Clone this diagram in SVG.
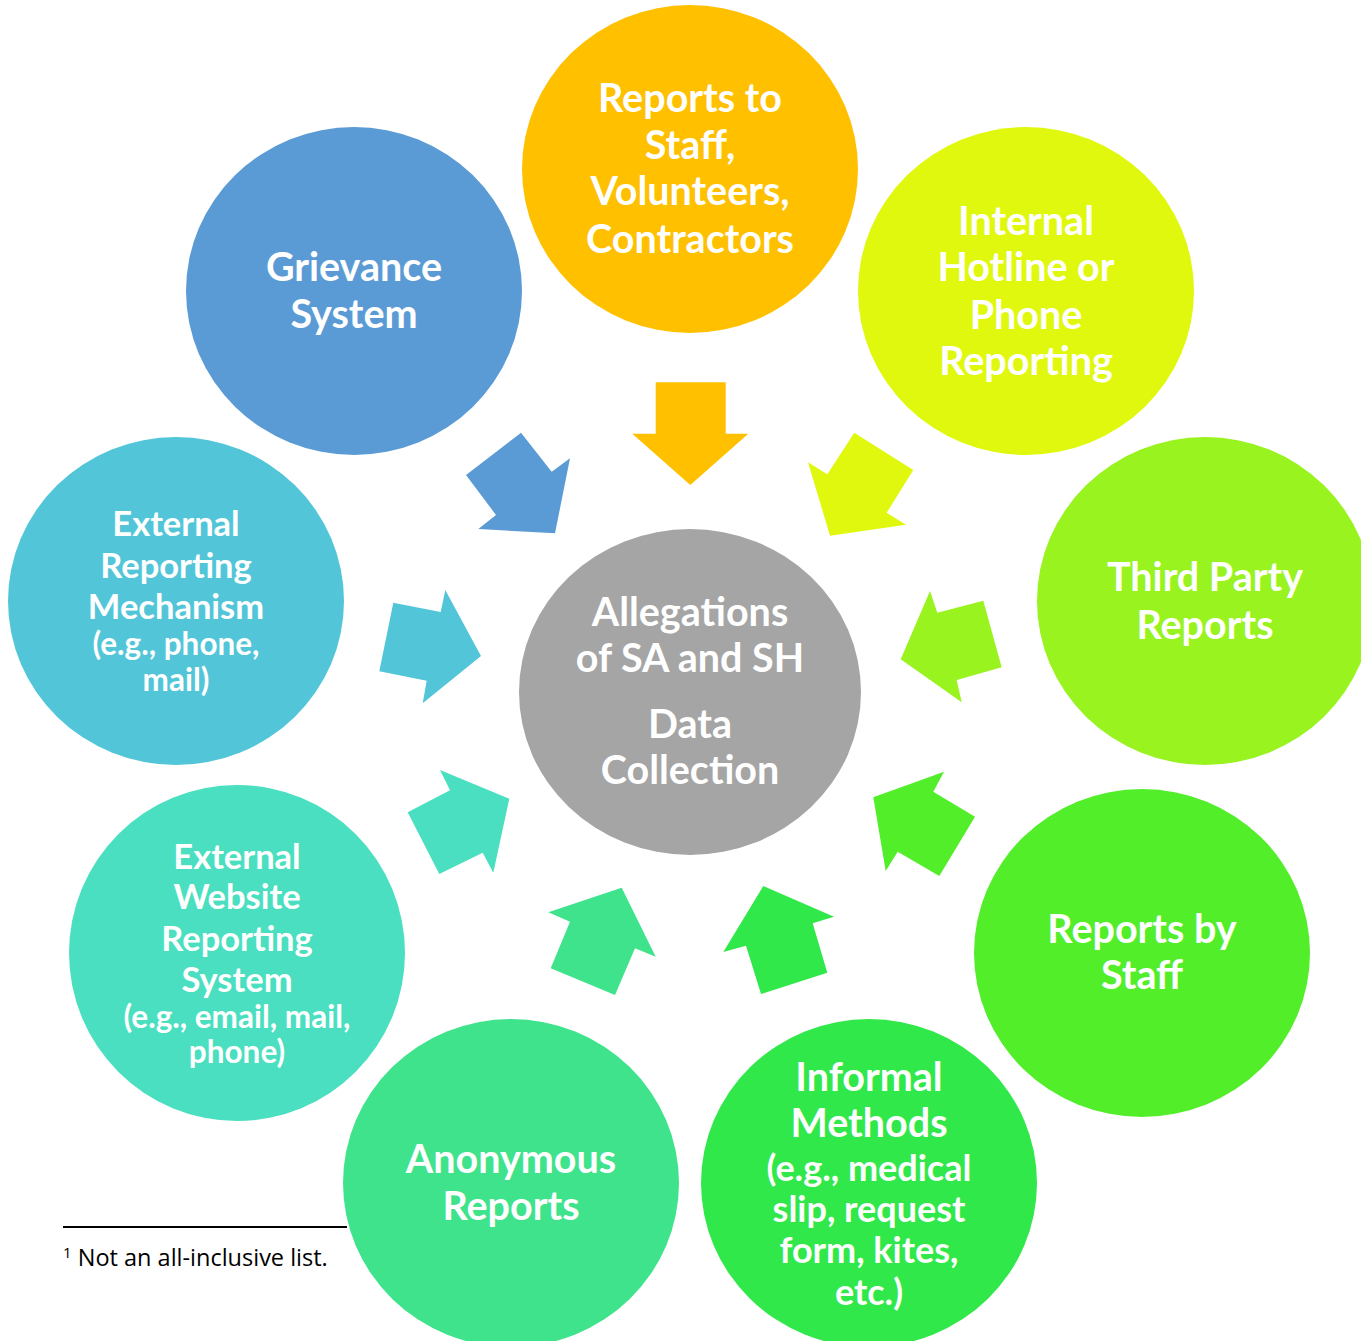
<svg xmlns="http://www.w3.org/2000/svg" width="1361" height="1341" viewBox="0 0 1361 1341">
<style>
.t{font-family:Lato,"Open Sans","Liberation Sans",sans-serif;font-weight:bold;fill:#fff;text-anchor:middle}
.b{font-size:39.5px}
.m{font-size:34.5px}
.s{font-size:31.5px}
.i{font-size:36px}
.f{font-family:"Open Sans","Liberation Sans",sans-serif;font-size:23.5px;fill:#000}
</style>
<rect width="1361" height="1341" fill="#fff"/>
<g id="connectors">
<polygon fill="#FFC000" points="655.7,382.3 725.7,382.3 725.7,433.7 748.3,433.7 690.3,485 632.3,433.7 655.7,433.7"/>
<polygon fill="#5B9BD5" points="521,432.7 551.7,471.7 570,458.3 555,533.3 478.3,529 496,515 466,475"/>
<polygon fill="#E0F80E" points="854.3,432.7 913.3,470 886.7,512.7 906,524.7 830,535.7 808,462.3 827.3,474.3"/>
<polygon fill="#52C6D8" points="393.3,602.7 440.7,612 445.3,590 481,656 422.7,703.3 426.7,680.7 379.3,671.3"/>
<polygon fill="#4ADFC0" points="440,770 509.3,798.7 493.3,872.7 482.7,852.7 439.3,874 407.7,812.3 450,790.3"/>
<polygon fill="#98F31E" points="930,591 937.3,612.7 983.3,600.7 1001.7,667.3 956.7,680 961.7,702.3 900.7,659.3"/>
<polygon fill="#52EE2A" points="944,771.7 933.3,791.7 975,816.7 939.3,876 897.7,851.7 885.7,871 873.3,797.3"/>
<polygon fill="#3EE38C" points="621.7,887.7 655.7,956.7 635,948.3 615,995 550.7,968.3 570,921.7 548.3,912.3"/>
<polygon fill="#31E84A" points="763.3,886 834,916.7 812.7,923.3 827.3,972.7 761,994 746,945.7 723.3,952"/>
</g>
<g id="center">
<ellipse cx="690" cy="692" rx="171" ry="163" fill="#A5A5A5"/>
<text class="t b" x="690" y="626">Allegations</text>
<text class="t b" x="690" y="672">of SA and SH</text>
<text class="t b" x="690" y="738">Data</text>
<text class="t b" x="690" y="784">Collection</text>
</g>
<g id="staff-volunteers">
<ellipse cx="690" cy="169" rx="168" ry="164" fill="#FFC000"/>
<text class="t b" x="690" y="112">Reports to</text>
<text class="t b" x="690" y="159">Staff,</text>
<text class="t b" x="690" y="205">Volunteers,</text>
<text class="t b" x="690" y="253">Contractors</text>
</g>
<g id="grievance">
<ellipse cx="354" cy="291" rx="168" ry="164" fill="#5B9BD5"/>
<text class="t b" x="354" y="281">Grievance</text>
<text class="t b" x="354" y="328">System</text>
</g>
<g id="hotline">
<ellipse cx="1026" cy="291" rx="168" ry="164" fill="#E0F80E"/>
<text class="t b" x="1026" y="235">Internal</text>
<text class="t b" x="1026" y="281">Hotline or</text>
<text class="t b" x="1026" y="329">Phone</text>
<text class="t b" x="1026" y="375">Reporting</text>
</g>
<g id="third-party">
<ellipse cx="1205" cy="601" rx="168" ry="164" fill="#98F31E"/>
<text class="t b" x="1205" y="591">Third Party</text>
<text class="t b" x="1205" y="639">Reports</text>
</g>
<g id="external-reporting">
<ellipse cx="176" cy="601" rx="168" ry="164" fill="#52C6D8"/>
<text class="t m" x="176" y="536">External</text>
<text class="t m" x="176" y="578">Reporting</text>
<text class="t m" x="176" y="619">Mechanism</text>
<text class="t s" x="176" y="655">(e.g., phone,</text>
<text class="t s" x="176" y="691">mail)</text>
</g>
<g id="external-website">
<ellipse cx="237" cy="953" rx="168" ry="168" fill="#4ADFC0"/>
<text class="t m" x="237" y="869">External</text>
<text class="t m" x="237" y="909">Website</text>
<text class="t m" x="237" y="951">Reporting</text>
<text class="t m" x="237" y="992">System</text>
<text class="t s" x="237" y="1028">(e.g., email, mail,</text>
<text class="t s" x="237" y="1063">phone)</text>
</g>
<g id="reports-by-staff">
<ellipse cx="1142" cy="953" rx="168" ry="164" fill="#52EE2A"/>
<text class="t b" x="1142" y="943">Reports by</text>
<text class="t b" x="1142" y="989">Staff</text>
</g>
<g id="anonymous">
<ellipse cx="511" cy="1183" rx="168" ry="164" fill="#3EE38C"/>
<text class="t b" x="511" y="1173">Anonymous</text>
<text class="t b" x="511" y="1220">Reports</text>
</g>
<g id="informal">
<ellipse cx="869" cy="1183" rx="168" ry="164" fill="#31E84A"/>
<text class="t b" x="869" y="1091">Informal</text>
<text class="t b" x="869" y="1137">Methods</text>
<text class="t i" x="869" y="1181">(e.g., medical</text>
<text class="t i" x="869" y="1222">slip, request</text>
<text class="t i" x="869" y="1263">form, kites,</text>
<text class="t i" x="869" y="1305">etc.)</text>
</g>
<g id="footnote">
<line x1="63" y1="1227" x2="347" y2="1227" stroke="#000" stroke-width="2"/>
<text class="f" x="63" y="1266"><tspan font-size="15" dy="-8">1</tspan><tspan dy="8"> Not an all-inclusive list.</tspan></text>
</g>
</svg>
